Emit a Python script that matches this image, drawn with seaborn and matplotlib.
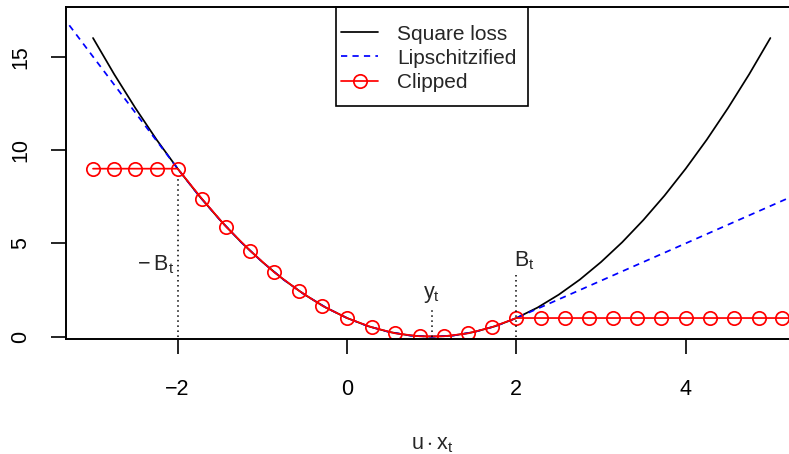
import matplotlib
matplotlib.use("Agg")
import matplotlib.pyplot as plt
from matplotlib.patches import Rectangle
import seaborn as sns

# square loss (u - y_t)^2 with y_t = 1
square_x = [-3, -2.75, -2.5, -2.25, -2, -1.75, -1.5, -1.25, -1, -0.75, -0.5, -0.25,
            0, 0.25, 0.5, 0.75, 1, 1.25, 1.5, 1.75, 2, 2.25, 2.5, 2.75,
            3, 3.25, 3.5, 3.75, 4, 4.25, 4.5, 4.75, 5]
square_y = [16, 14.06, 12.25, 10.56, 9, 7.56, 6.25, 5.06, 4, 3.06, 2.25, 1.56,
            1, 0.56, 0.25, 0.06, 0, 0.06, 0.25, 0.56, 1, 1.56, 2.25, 3.06,
            4, 5.06, 6.25, 7.56, 9, 10.56, 12.25, 14.06, 16]

# lipschitzified loss: linear outside [-B_t, B_t]
lips_x = [-3.28, -2, -1.75, -1.5, -1.25, -1, -0.75, -0.5, -0.25,
          0, 0.25, 0.5, 0.75, 1, 1.25, 1.5, 1.75, 2, 5.3]
lips_y = [16.68, 9, 7.56, 6.25, 5.06, 4, 3.06, 2.25, 1.56,
          1, 0.56, 0.25, 0.06, 0, 0.06, 0.25, 0.56, 1, 7.6]

# clipped loss, points with circles
clip_x = [-3, -2.75, -2.5, -2.25, -2, -1.71, -1.43, -1.14, -0.86, -0.57, -0.29,
          0, 0.29, 0.57, 0.86, 1.14, 1.43, 1.71, 2, 2.29, 2.57, 2.86, 3.14,
          3.43, 3.71, 4, 4.29, 4.57, 4.86, 5.14, 5.43]
clip_y = [9, 9, 9, 9, 9, 7.37, 5.90, 4.59, 3.45, 2.47, 1.65,
          1, 0.51, 0.18, 0.02, 0.02, 0.18, 0.51, 1, 1, 1, 1, 1,
          1, 1, 1, 1, 1, 1, 1, 1]

legend_labels = ["Square loss", "Lipschitzified", "Clipped"]

sns.set_theme(style="ticks")
plt.rcParams["font.family"] = ["Liberation Sans", "DejaVu Sans"]
plt.rcParams["mathtext.fontset"] = "custom"
plt.rcParams["mathtext.rm"] = "Liberation Sans"
plt.rcParams["mathtext.it"] = "Liberation Sans"
plt.rcParams["mathtext.bf"] = "Liberation Sans"
plt.rcParams["mathtext.default"] = "rm"

W, H = 789, 454
fig = plt.figure(figsize=(7.89, 4.54), dpi=100)
ax = fig.add_axes([66 / W, 1 - 338.7 / H, 1 - 66 / W, (338.7 - 7) / H])

sns.lineplot(x=square_x, y=square_y, ax=ax, color="black", lw=1.25,
             estimator=None, sort=False, label=legend_labels[0])
sns.lineplot(x=lips_x, y=lips_y, ax=ax, color="blue", lw=1.25,
             linestyle=(0, (3.6, 3)), estimator=None, sort=False,
             label=legend_labels[1])
sns.lineplot(x=clip_x, y=clip_y, ax=ax, color="red", lw=1.25, marker="o",
             markersize=9.6, markerfacecolor="none", markeredgecolor="red",
             markeredgewidth=1.25, estimator=None, sort=False,
             label=legend_labels[2])

# dotted guides and labels
ax.plot([-2, -2], [0, 8.6], color="black", lw=1.1, linestyle=(0, (1, 2.3)))
ax.plot([1, 1], [0, 1.5], color="black", lw=1.1, linestyle=(0, (1, 2.3)))
ax.plot([2, 2], [0, 3.3], color="black", lw=1.1, linestyle=(0, (1, 2.3)))
ax.text(-2.04, 3.57, "\u2212\u2009" + r"$B_t$", ha="right", va="baseline",
        fontsize=15.5)
ax.text(1.0, 2.07, r"$y_t$", ha="center", va="baseline", fontsize=15.5)
ax.text(1.97, 3.75, r"$B_t$", ha="left", va="baseline", fontsize=15.5)

ax.set_xlim(-3.319, 5.22)
ax.set_ylim(-0.107, 17.66)
ax.set_xticks([-2, 0, 2, 4])
ax.set_xticklabels(["\u22122", "0", "2", "4"])
ax.set_yticks([0, 5, 10, 15])
ax.set_yticklabels(["0", "5", "10", "15"], rotation=90, va="center")
ax.tick_params(axis="both", direction="out", length=10.8, width=1.2,
               labelsize=15.5, color="black", labelcolor="black")
ax.tick_params(axis="x", pad=18.5)
ax.tick_params(axis="y", pad=14)
ax.set_xlabel("")
ax.set_ylabel("")
for side in ["left", "top", "bottom"]:
    ax.spines[side].set_linewidth(1.4)
    ax.spines[side].set_color("black")
ax.spines["right"].set_visible(False)

fig.text(431.7 / W, 1 - 449 / H, r"$u \cdot x_t$", ha="center",
         va="baseline", fontsize=15.5)

# legend entries without frame, box drawn separately
leg = ax.legend(loc="upper left", bbox_to_anchor=(341 / W, 1 - 24.5 / H),
                bbox_transform=fig.transFigure, fontsize=15, frameon=False,
                handlelength=1.78, handletextpad=0.91, labelspacing=0.25,
                borderpad=0, borderaxespad=0)
fig.patches.append(Rectangle((335.7 / W, 1 - 106 / H), 192 / W, 99 / H,
                             transform=fig.transFigure, fill=False,
                             edgecolor="black", linewidth=1.2, zorder=5))

fig.savefig("out.png", dpi=100)
